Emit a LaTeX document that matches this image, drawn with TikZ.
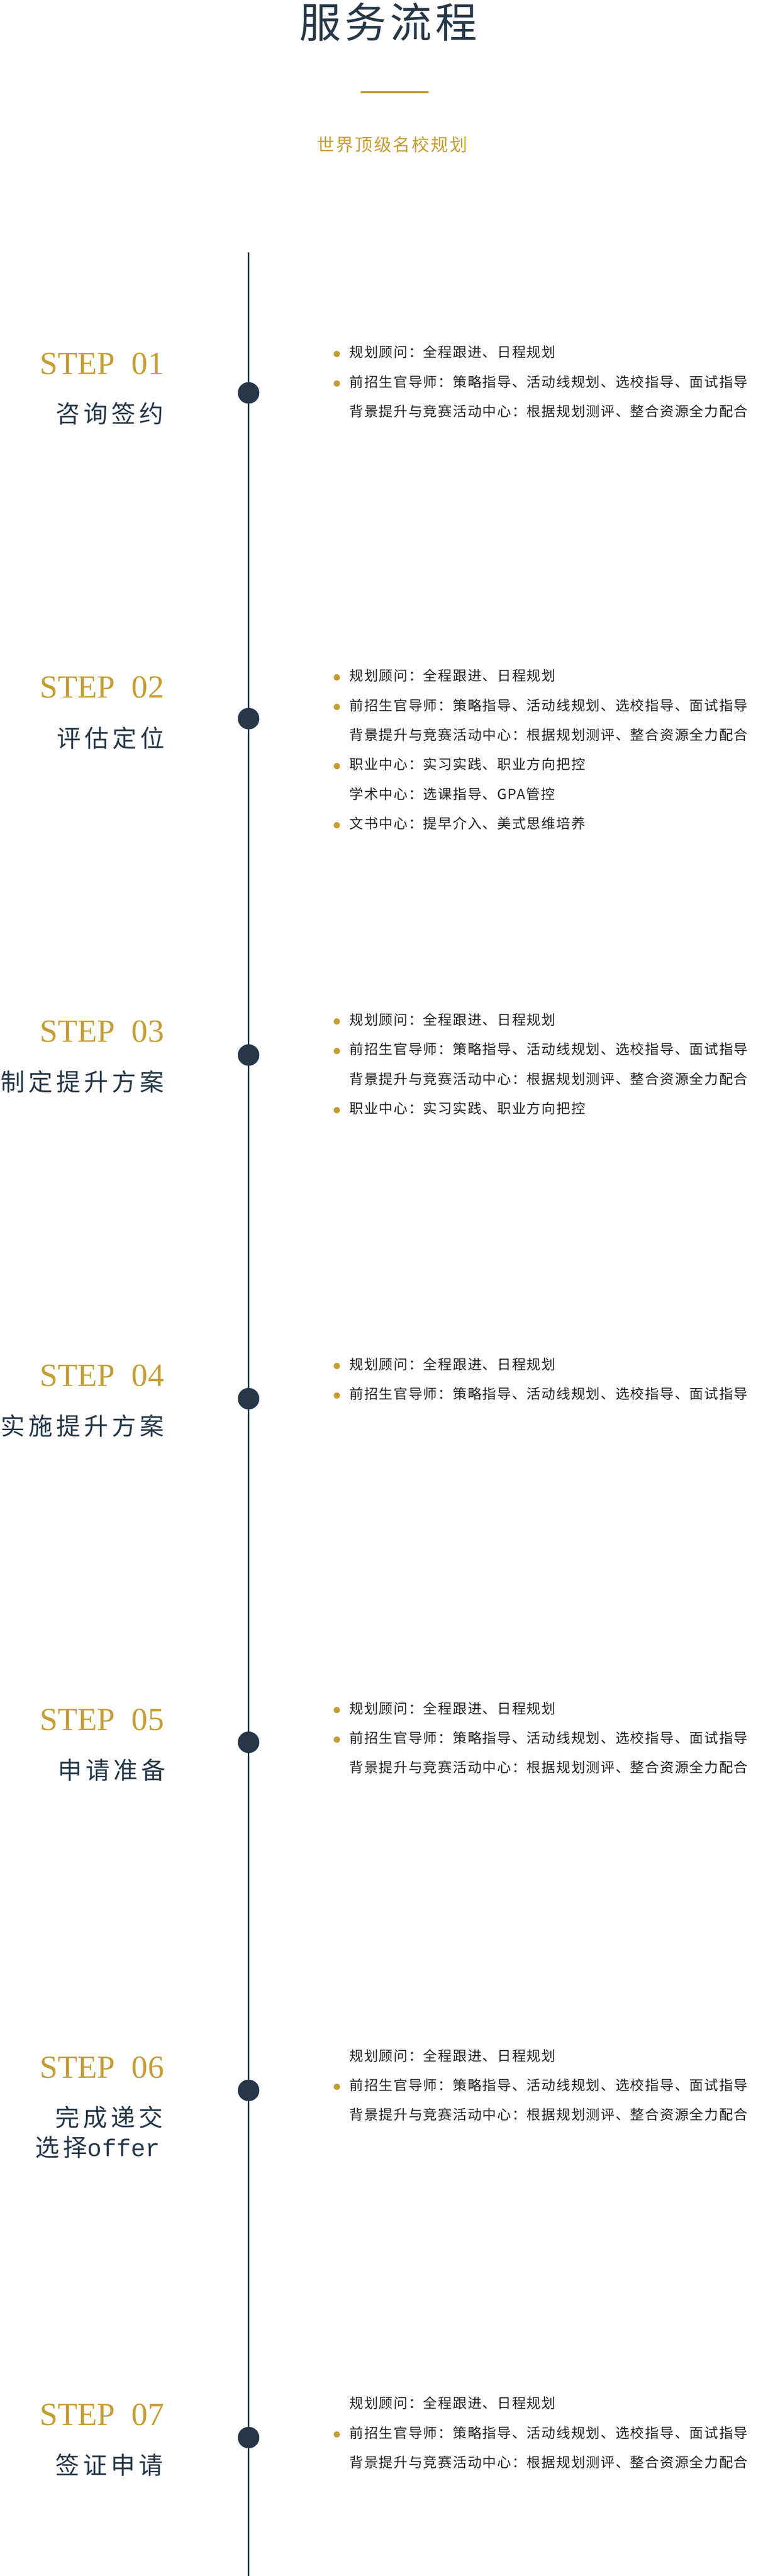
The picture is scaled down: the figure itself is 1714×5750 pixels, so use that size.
\documentclass[tikz,border=0pt]{standalone}
\usepackage{fontspec}
\newfontfamily\cjkhead{Noto Sans CJK SC}[LetterSpace=9]
\newfontfamily\cjksub{Noto Sans CJK SC}[LetterSpace=8.5]
\newfontfamily\cjktitle{Noto Sans CJK SC}[LetterSpace=15]
\newfontfamily\cjkbody{Noto Sans CJK SC}[LetterSpace=6.5]
\newfontfamily\stepfont{Liberation Serif}
\newfontfamily\offerfont{Liberation Mono}
\definecolor{gold}{RGB}{196,157,52}
\definecolor{navy}{RGB}{37,55,72}
\definecolor{bodyc}{RGB}{34,34,34}
\newcommand{\txA}{规划顾问：全程跟进、日程规划}
\newcommand{\txB}{前招生官导师：策略指导、活动线规划、选校指导、面试指导}
\newcommand{\txC}{背景提升与竞赛活动中心：根据规划测评、整合资源全力配合}
\newcommand{\txD}{职业中心：实习实践、职业方向把控}
\newcommand{\txE}{学术中心：选课指导、GPA管控}
\newcommand{\txF}{文书中心：提早介入、美式思维培养}
\newcommand{\bl}[3]{\node[bodytext] (#1) at (780,#2+12) {#3}; \node[bul] (#1b) at (752,#2+4) {};}
\newcommand{\nb}[3]{\node[bodytext] (#1) at (780,#2+12) {#3};}
\tikzset{
  steplabel/.style={anchor=base west, inner sep=0, text=gold, font=\stepfont\fontsize{72}{80}\selectfont},
  steptitle/.style={anchor=base west, inner sep=0, text=navy, font=\cjktitle\fontsize{54}{60}\selectfont},
  bodytext/.style={anchor=base west, inner sep=0, text=bodyc, font=\cjkbody\fontsize{31}{36}\selectfont},
  bul/.style={circle, fill=gold, inner sep=0, minimum size=14pt},
  stepdot/.style={circle, fill=navy, inner sep=0, minimum size=48pt},
}
\begin{document}
\begin{tikzpicture}[x=1pt,y=-1pt]
\fill[white] (0,0) rectangle (1714,5750);
\useasboundingbox (0,0) rectangle (1714,5750);
% header
\node[anchor=base west, inner sep=0, text=navy, font=\cjkhead\fontsize{93}{100}\selectfont] (title) at (668,85) {服务流程};
\node[fill=gold, minimum width=152pt, minimum height=5pt, inner sep=0] (rule) at (881,205.5) {};
\node[anchor=base west, inner sep=0, text=gold, font=\cjksub\fontsize{39}{44}\selectfont] (subtitle) at (708,337) {世界顶级名校规划};
% timeline
\coordinate (ltop) at (555,563);
\coordinate (lbot) at (555,5750);
\draw[navy, line width=4pt] (ltop) -- (lbot);
% step 1
\node[steplabel] (s1) at (89,836) {STEP\hspace{37pt}01};
\node[steptitle] (t1) at (125,944) {咨询签约};
\node[stepdot] (d1) at (555,877) {};
\bl{s1a}{786}{\txA}
\bl{s1b}{852}{\txB}
\nb{s1c}{918}{\txC}
% step 2
\node[steplabel] (s2) at (89,1558) {STEP\hspace{37pt}02};
\node[steptitle] (t2) at (127,1668) {评估定位};
\node[stepdot] (d2) at (555,1604) {};
\bl{s2a}{1508}{\txA}
\bl{s2b}{1574}{\txB}
\nb{s2c}{1640}{\txC}
\bl{s2d}{1706}{\txD}
\nb{s2e}{1772}{\txE}
\bl{s2f}{1838}{\txF}
% step 3
\node[steplabel] (s3) at (89,2326) {STEP\hspace{37pt}03};
\node[steptitle] (t3) at (2,2435) {制定提升方案};
\node[stepdot] (d3) at (555,2355) {};
\bl{s3a}{2276}{\txA}
\bl{s3b}{2342}{\txB}
\nb{s3c}{2408}{\txC}
\bl{s3d}{2474}{\txD}
% step 4
\node[steplabel] (s4) at (89,3094) {STEP\hspace{37pt}04};
\node[steptitle] (t4) at (2,3203) {实施提升方案};
\node[stepdot] (d4) at (555,3122) {};
\bl{s4a}{3045}{\txA}
\bl{s4b}{3111}{\txB}
% step 5
\node[steplabel] (s5) at (89,3862) {STEP\hspace{37pt}05};
\node[steptitle] (t5) at (129,3971) {申请准备};
\node[stepdot] (d5) at (555,3889) {};
\bl{s5a}{3813}{\txA}
\bl{s5b}{3879}{\txB}
\nb{s5c}{3945}{\txC}
% step 6
\node[steplabel] (s6) at (89,4638) {STEP\hspace{37pt}06};
\node[steptitle] (t6) at (123,4747) {完成递交};
\node[steptitle] (t6b) at (79,4813) {选择{\offerfont\fontsize{54}{60}\selectfont offer}};
\node[stepdot] (d6) at (555,4666) {};
\nb{s6a}{4588}{\txA}
\bl{s6b}{4654}{\txB}
\nb{s6c}{4720}{\txC}
% step 7
\node[steplabel] (s7) at (89,5414) {STEP\hspace{37pt}07};
\node[steptitle] (t7) at (123,5523) {签证申请};
\node[stepdot] (d7) at (555,5441) {};
\nb{s7a}{5364}{\txA}
\bl{s7b}{5430}{\txB}
\nb{s7c}{5496}{\txC}
\end{tikzpicture}
\end{document}
